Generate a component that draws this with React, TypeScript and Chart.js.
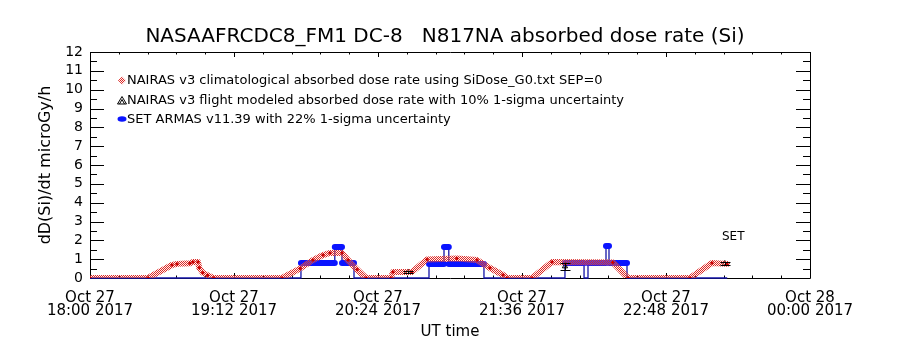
import React, { useEffect, useRef } from "react";
import { Chart, registerables } from "chart.js";
Chart.register(...registerables);

const TITLE = "NASAAFRCDC8_FM1 DC-8   N817NA absorbed dose rate (Si)";
const X_TITLE = "UT time";
const Y_TITLE = "dD(Si)/dt microGy/h";
const X_TICK_HOURS = [18, 19.2, 20.4, 21.6, 22.8, 24];
const X_TICK_LABELS = [
  ["Oct 27", "18:00 2017"],
  ["Oct 27", "19:12 2017"],
  ["Oct 27", "20:24 2017"],
  ["Oct 27", "21:36 2017"],
  ["Oct 27", "22:48 2017"],
  ["Oct 28", "00:00 2017"],
];
const Y_MIN = 0;
const Y_MAX = 12;
const LEGEND_LABELS = [
  "NAIRAS v3 climatological absorbed dose rate using SiDose_G0.txt SEP=0",
  "NAIRAS v3 flight modeled absorbed dose rate with 10% 1-sigma uncertainty",
  "SET ARMAS v11.39 with 22% 1-sigma uncertainty",
];

// NAIRAS climatological (UT hours, microGy/h)
const CLIM_TIME = [18.0, 18.483, 18.683, 18.725, 18.833, 18.858, 18.9, 18.91, 18.94, 18.98, 19.03,
  19.6, 19.75, 19.858, 19.942, 20.0, 20.1, 20.15, 20.225, 20.3,
  20.508, 20.525, 20.683, 20.808, 21.058, 21.225, 21.333, 21.442, 21.475,
  21.683, 21.85, 22.358, 22.483,
  23.0, 23.183, 23.308];
const CLIM_DOSE = [0, 0, 0.69, 0.75, 0.78, 0.85, 0.85, 0.55, 0.28, 0.14, 0,
  0, 0.5, 0.95, 1.22, 1.33, 1.33, 0.95, 0.45, 0,
  0, 0.32, 0.32, 0.98, 1.03, 0.95, 0.53, 0.16, 0,
  0, 0.85, 0.82, 0,
  0, 0.8, 0.75];

// NAIRAS flight modeled
const FM_TIME = [20.65, 21.958, 23.29];
const FM_DOSE = [0.32, 0.62, 0.77];
const FM_ERR = [0.05, 0.19, 0.08];

// SET ARMAS
const SET_TIME = [18.0, 19.758, 19.758, 20.04, 20.04, 20.1, 20.1, 20.2, 20.2,
  20.825, 20.825, 20.95, 20.95, 20.99, 20.99, 21.283, 21.283,
  21.958, 21.958, 22.117, 22.117, 22.15, 22.15, 22.3, 22.3, 22.325, 22.325, 22.475, 22.475, 23.31];
const SET_DOSE = [0, 0, 0.8, 0.8, 1.65, 1.65, 0.8, 0.8, 0,
  0, 0.75, 0.75, 1.65, 1.65, 0.75, 0.75, 0,
  0, 0.8, 0.8, 0, 0, 0.8, 0.8, 1.7, 1.7, 0.8, 0.8, 0, 0];

const SET_LABEL = { text: "SET", time: 23.36, dose: 2.2 };

const FONT = "DejaVu Sans";

function makePattern(): CanvasPattern | string {
  const c = document.createElement("canvas");
  c.width = 2;
  c.height = 2;
  const g = c.getContext("2d");
  if (!g) return "#d02020";
  g.fillStyle = "#dc2a26";
  g.fillRect(0, 0, 1, 1);
  g.fillRect(1, 1, 1, 1);
  g.fillStyle = "rgba(250,200,200,0.25)";
  g.fillRect(1, 0, 1, 1);
  g.fillRect(0, 1, 1, 1);
  const p = g.createPattern(c, "repeat");
  return p || "#d02020";
}

export default function App() {
  const ref = useRef<HTMLCanvasElement | null>(null);
  useEffect(() => {
    const canvas = ref.current;
    if (!canvas) return;
    const pattern = makePattern();

    const clim = CLIM_TIME.map((t, i) => ({ x: t, y: CLIM_DOSE[i] }));
    const setLine = SET_TIME.map((t, i) => ({ x: t, y: SET_DOSE[i] }));
    // thick bands: horizontal runs of nonzero values, broken at steps
    const setBand: { x: number; y: number | null }[] = [];
    for (let i = 0; i < SET_TIME.length; i++) {
      const v = SET_DOSE[i];
      const prev = i > 0 ? SET_DOSE[i - 1] : null;
      if (v > 0) {
        if (prev !== null && prev !== v) setBand.push({ x: SET_TIME[i], y: null });
        setBand.push({ x: SET_TIME[i], y: v });
      } else {
        setBand.push({ x: SET_TIME[i], y: null });
      }
    }
    const fm = FM_TIME.map((t, i) => ({ x: t, y: FM_DOSE[i] }));

    const framePlugin = {
      id: "frameTicks",
      beforeDatasetsDraw(chart: any) {
        const { ctx, chartArea: a, scales } = chart;
        const xs = scales.x;
        const ys = scales.y;
        ctx.save();
        ctx.strokeStyle = "#000";
        ctx.lineWidth = 1;
        ctx.beginPath();
        ctx.rect(a.left + 0.5, a.top + 0.5, a.right - a.left, a.bottom - a.top);
        ctx.stroke();
        ctx.beginPath();
        for (let k = 0; k < X_TICK_HOURS.length; k++) {
          const h = X_TICK_HOURS[k];
          const px = Math.round(xs.getPixelForValue(h)) + 0.5;
          ctx.moveTo(px, a.bottom); ctx.lineTo(px, a.bottom - 5);
          ctx.moveTo(px, a.top); ctx.lineTo(px, a.top + 5);
          if (k < X_TICK_HOURS.length - 1) {
            const step = (X_TICK_HOURS[k + 1] - h) / 5;
            for (let m = 1; m < 5; m++) {
              const mx = Math.round(xs.getPixelForValue(h + m * step)) + 0.5;
              ctx.moveTo(mx, a.bottom); ctx.lineTo(mx, a.bottom - 2.5);
              ctx.moveTo(mx, a.top); ctx.lineTo(mx, a.top + 2.5);
            }
          }
        }
        for (let v = Y_MIN; v <= Y_MAX; v += 1) {
          const py = Math.round(ys.getPixelForValue(v)) + 0.5;
          ctx.moveTo(a.left, py); ctx.lineTo(a.left + 14, py);
          ctx.moveTo(a.right, py); ctx.lineTo(a.right - 14, py);
          if (v < Y_MAX) {
            const my = Math.round(ys.getPixelForValue(v + 0.5)) + 0.5;
            ctx.moveTo(a.left, my); ctx.lineTo(a.left + 7, my);
            ctx.moveTo(a.right, my); ctx.lineTo(a.right - 7, my);
          }
        }
        ctx.stroke();
        ctx.restore();
      },
      afterDatasetsDraw(chart: any) {
        const { ctx, scales } = chart;
        const xs = scales.x;
        const ys = scales.y;
        ctx.save();
        ctx.strokeStyle = "#000";
        ctx.lineWidth = 1;
        ctx.beginPath();
        for (let i = 0; i < FM_TIME.length; i++) {
          const px = Math.round(xs.getPixelForValue(FM_TIME[i])) + 0.5;
          const hi = ys.getPixelForValue(FM_DOSE[i] + FM_ERR[i]);
          const lo = ys.getPixelForValue(FM_DOSE[i] - FM_ERR[i]);
          ctx.moveTo(px, hi); ctx.lineTo(px, lo);
          ctx.moveTo(px - 5, Math.round(hi) + 0.5); ctx.lineTo(px + 5, Math.round(hi) + 0.5);
          ctx.moveTo(px - 5, Math.round(lo) + 0.5); ctx.lineTo(px + 5, Math.round(lo) + 0.5);
        }
        ctx.stroke();
        // SET annotation
        ctx.fillStyle = "#000";
        ctx.font = `12px "${FONT}"`;
        ctx.textAlign = "center";
        ctx.textBaseline = "middle";
        ctx.fillText(SET_LABEL.text, xs.getPixelForValue(SET_LABEL.time), ys.getPixelForValue(SET_LABEL.dose));
        ctx.restore();
      },
      afterDraw(chart: any) {
        const { ctx, chartArea: a } = chart;
        ctx.save();
        // title
        ctx.fillStyle = "#000";
        ctx.font = `20px "${FONT}"`;
        ctx.textAlign = "center";
        ctx.textBaseline = "middle";
        ctx.fillText(TITLE, 445, 37);
        // legend
        const lx = a.left + 32;
        const rows = [a.top + 28.5, a.top + 48.5, a.top + 67];
        ctx.font = `13px "${FONT}"`;
        ctx.textAlign = "left";
        for (let i = 0; i < LEGEND_LABELS.length; i++) {
          ctx.fillStyle = "#000";
          ctx.fillText(LEGEND_LABELS[i], lx + 5, rows[i] + 0.5);
        }
        // markers
        const y0 = rows[0];
        ctx.fillStyle = pattern as any;
        ctx.beginPath();
        ctx.moveTo(lx, y0 - 4); ctx.lineTo(lx + 4, y0); ctx.lineTo(lx, y0 + 4); ctx.lineTo(lx - 4, y0); ctx.closePath();
        ctx.fill();
        const y1 = rows[1];
        ctx.strokeStyle = "#000";
        ctx.lineWidth = 1;
        ctx.beginPath();
        ctx.moveTo(lx, y1 - 4); ctx.lineTo(lx + 4.5, y1 + 3.5); ctx.lineTo(lx - 4.5, y1 + 3.5); ctx.closePath();
        ctx.moveTo(lx, y1 - 1); ctx.lineTo(lx + 2.5, y1 + 3.5); ctx.moveTo(lx, y1 - 1); ctx.lineTo(lx - 2.5, y1 + 3.5);
        ctx.stroke();
        const y2 = rows[2];
        ctx.fillStyle = "#0a14ff";
        ctx.beginPath();
        ctx.ellipse(lx, y2, 4.5, 2.8, 0, 0, Math.PI * 2);
        ctx.fill();
        ctx.restore();
      },
    };

    const chart = new Chart(canvas, {
      type: "line",
      data: {
        datasets: [
          {
            label: "clim",
            data: clim,
            borderColor: pattern as any,
            borderWidth: 6,
            borderJoinStyle: "round",
            borderCapStyle: "round",
            pointStyle: "rectRot",
            pointRadius: 2,
            pointBackgroundColor: "#c80000",
            pointBorderWidth: 0,
            tension: 0,
            clip: 0,
            order: 0,
          },
          {
            label: "fm",
            data: fm,
            showLine: false,
            pointStyle: "triangle",
            pointRadius: 3,
            pointBorderColor: "#000",
            pointBackgroundColor: "rgba(0,0,0,0)",
            pointBorderWidth: 1,
            order: 1,
          },
          {
            label: "setBand",
            data: setBand as any,
            borderColor: "#0a14ff",
            borderWidth: 6,
            borderCapStyle: "round",
            pointRadius: 0,
            spanGaps: false,
            tension: 0,
            order: 2,
          },
          {
            label: "setLine",
            data: setLine,
            borderColor: "#1414a8",
            borderWidth: 1.3,
            pointRadius: 0,
            tension: 0,
            clip: { left: 0, top: 0, right: 0, bottom: 2 } as any,
            order: 3,
          },
        ],
      },
      options: {
        responsive: false,
        animation: false,
        parsing: false as any,
        layout: { padding: { top: 52, right: 90, bottom: 0, left: 0 } },
        plugins: {
          legend: { display: false },
          title: { display: false },
          tooltip: { enabled: false },
        },
        scales: {
          x: {
            type: "linear",
            min: 18,
            max: 24,
            grid: { display: false, drawTicks: false },
            border: { display: false },
            afterBuildTicks: (s: any) => {
              s.ticks = X_TICK_HOURS.map((v) => ({ value: v }));
            },
            afterFit: (s: any) => {
              s.height = 72;
            },
            ticks: {
              autoSkip: false,
              maxRotation: 0,
              padding: 14,
              color: "#000",
              font: { family: FONT, size: 15, lineHeight: "12.8px" as any },
              callback: (_v: any, i: number) => X_TICK_LABELS[i],
            },
            title: {
              display: true,
              text: X_TITLE,
              color: "#000",
              font: { family: FONT, size: 15 },
              padding: { top: 0, bottom: 9 },
            },
          },
          y: {
            type: "linear",
            min: Y_MIN,
            max: Y_MAX,
            grid: { display: false, drawTicks: false },
            border: { display: false },
            afterFit: (s: any) => {
              s.width = 90;
            },
            ticks: {
              stepSize: 1,
              autoSkip: false,
              padding: 7,
              color: "#000",
              font: { family: FONT, size: 14 },
            },
            title: {
              display: true,
              text: Y_TITLE,
              color: "#000",
              font: { family: FONT, size: 16 },
              padding: { top: 36, bottom: 0 },
            },
          },
        },
      },
      plugins: [framePlugin],
    });
    return () => chart.destroy();
  }, []);

  return (
    <div style={{ position: "fixed", left: 0, top: 0, width: 900, height: 350, background: "#fff" }}>
      <canvas ref={ref} width={900} height={350} style={{ display: "block", width: 900, height: 350 }} />
    </div>
  );
}
